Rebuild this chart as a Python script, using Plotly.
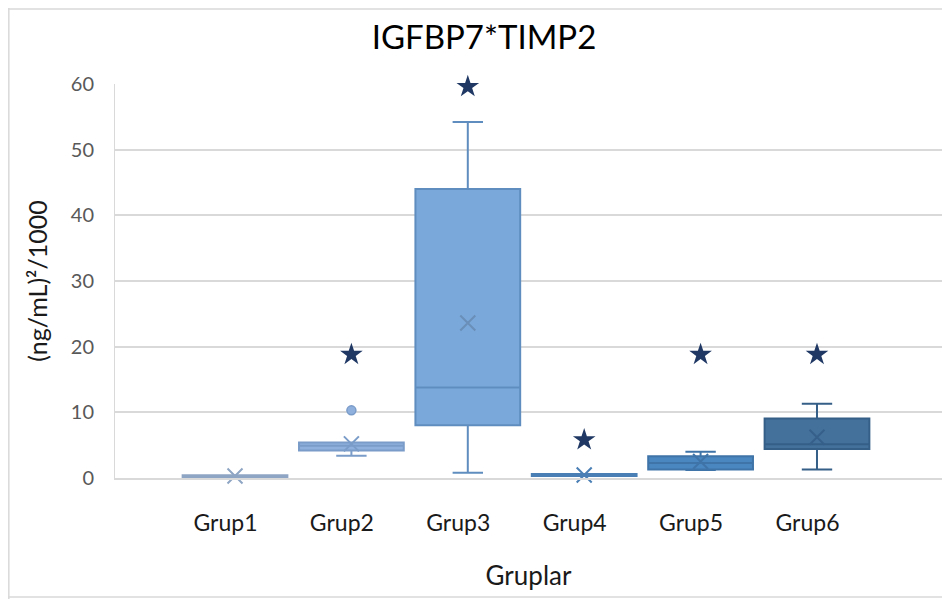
import plotly.graph_objects as go

# ---- data ----
groups = ["Grup1", "Grup2", "Grup3", "Grup4", "Grup5", "Grup6"]
q1 = [0.15, 4.2, 8.05, 0.3, 1.3, 4.4]
median = [0.25, 4.9, 13.8, 0.45, 2.3, 5.15]
q3 = [0.4, 5.4, 44.0, 0.6, 3.3, 9.05]
lower_whisker = [0.15, 3.4, 0.8, 0.3, 1.2, 1.3]
upper_whisker = [0.4, 5.4, 54.2, 0.6, 4.0, 11.3]
means = [0.3, 5.2, 23.6, 0.45, 2.5, 6.2]
outlier_groups = ["Grup2"]
outlier_values = [10.3]
star_groups = ["Grup2", "Grup3", "Grup4", "Grup5", "Grup6"]
star_values = [18.8, 59.6, 5.8, 18.8, 18.8]
y_ticks = [0, 10, 20, 30, 40, 50, 60]

# ---- styles ----
fills = ["#8ea5c4", "#8fb0dd", "#7aa8da", "#5a8ec4", "#4a86c0", "#43719c"]
lines = ["#8ea5c4", "#7a9cc8", "#5f8dbf", "#4a7fb5", "#3f74a8", "#365f88"]
mean_cols = ["#8ea5c4", "#7a9cc8", "#6a8fb8", "#4a7fb5", "#3f74a8", "#36608a"]
FONT = "Lato"
W, H = 934, 591  # page body has an 8px margin

pos = {g: i for i, g in enumerate(groups)}

fig = go.Figure()
for i, g in enumerate(groups):
    fig.add_trace(go.Box(
        x=[i], q1=[q1[i]], median=[median[i]], q3=[q3[i]],
        lowerfence=[lower_whisker[i]], upperfence=[upper_whisker[i]],
        width=0.9, whiskerwidth=0.29,
        fillcolor=fills[i], line=dict(color=lines[i], width=2),
        boxpoints=False, showlegend=False, hoverinfo="skip",
    ))
    fig.add_trace(go.Scatter(
        x=[i], y=[means[i]], mode="markers", cliponaxis=False,
        marker=dict(symbol="x-thin", size=15,
                    line=dict(color=mean_cols[i], width=2)),
        showlegend=False, hoverinfo="skip",
    ))

fig.add_trace(go.Scatter(
    x=[pos[g] for g in outlier_groups], y=outlier_values, mode="markers",
    cliponaxis=False,
    marker=dict(symbol="circle", size=9, color=fills[1],
                line=dict(color=lines[1], width=1.5)),
    showlegend=False, hoverinfo="skip",
))
fig.add_trace(go.Scatter(
    x=[pos[g] for g in star_groups], y=star_values, mode="markers",
    cliponaxis=False,
    marker=dict(symbol="star", size=17, color="#1f3864"),
    showlegend=False, hoverinfo="skip",
))

fig.update_layout(
    width=W, height=H,
    margin=dict(l=107, r=0, t=76, b=121),
    paper_bgcolor="white", plot_bgcolor="white",
    font=dict(family=FONT),
    title=dict(text="IGFBP7*TIMP2", x=476 / W, xanchor="center",
               y=1 - 29 / H, yanchor="middle", yref="container",
               font=dict(size=33, color="#000000", family=FONT)),
    xaxis=dict(
        range=[-1.031, 6.074], tickmode="array",
        tickvals=[i - 0.082 for i in range(len(groups))], ticktext=groups,
        showgrid=False, zeroline=False, showline=True,
        linecolor="#d9d9d9", linewidth=2, ticks="",
        ticklabelstandoff=23,
        tickfont=dict(size=23, color="#1a1a1a"),
        title=dict(text="Gruplar", font=dict(size=26, color="#1a1a1a"), standoff=32),
    ),
    yaxis=dict(
        range=[0, 60], tickmode="array", tickvals=y_ticks,
        showgrid=True, gridcolor="#d9d9d9", gridwidth=2,
        zeroline=False, showline=True, linecolor="#d9d9d9", linewidth=1,
        ticks="", ticklabelstandoff=16,
        tickfont=dict(size=20, color="#595959"),
        title=dict(text="(ng/mL)²/1000", font=dict(size=25, color="#1a1a1a"), standoff=16),
    ),
    shapes=[
        dict(type="line", xref="paper", yref="paper",
             x0=-107 / 827 + 0.001, x1=-107 / 827 + 0.001, y0=-121 / 394, y1=1 + 76 / 394,
             line=dict(color="#d9d9d9", width=1.5)),
        dict(type="line", xref="paper", yref="paper",
             x0=-107 / 827, x1=1, y0=1 + 75 / 394, y1=1 + 75 / 394,
             line=dict(color="#d9d9d9", width=1.5)),
        dict(type="line", xref="paper", yref="paper",
             x0=-107 / 827, x1=1, y0=-119 / 394, y1=-119 / 394,
             line=dict(color="#d9d9d9", width=1.5)),
    ],
)

fig.write_html("out.html")
